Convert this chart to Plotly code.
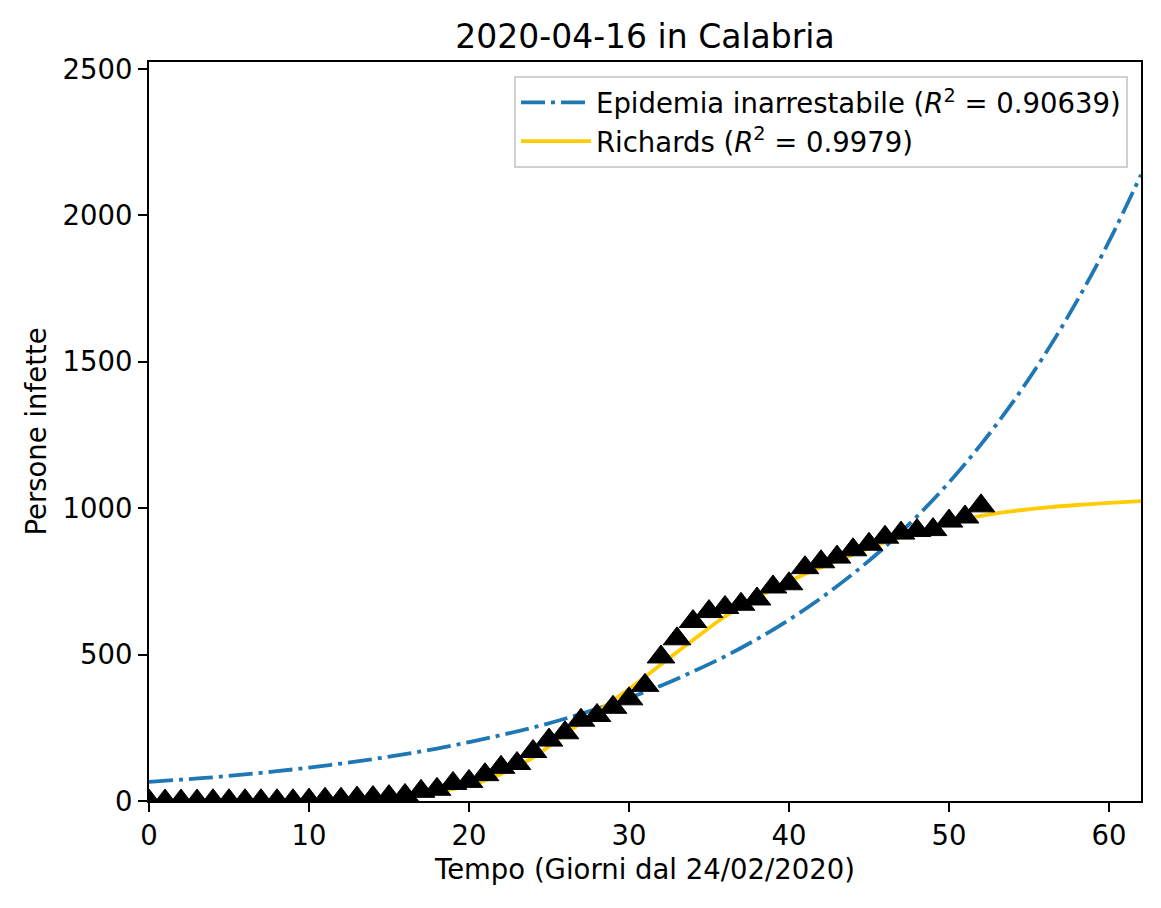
import plotly.graph_objects as go

days = list(range(53))
cases = [0, 0, 0, 0, 1, 1, 1, 1, 1, 1,
         3, 6, 6, 10, 12, 15, 19, 33, 40, 60,
         67, 90, 115, 128, 169, 208, 233, 276, 292, 320,
         349, 395, 492, 554, 613, 647, 661, 672, 690, 731,
         742, 797, 817, 833, 858, 877, 901, 915, 924, 927,
         956, 970, 1008]

# curve dei modelli campionate ogni 2 giorni
fit_days = list(range(0, 63, 2))
exp_fit = [65, 73, 81, 91, 102, 114, 128, 143, 160, 179,
           201, 225, 251, 281, 315, 352, 394, 442, 494, 553,
           619, 693, 776, 868, 972, 1088, 1218, 1363, 1526, 1708,
           1911, 2139]
richards_fit = [0.5, 0.7, 1, 1.5, 2.5, 4, 7, 12, 20, 32,
                52, 92, 148, 228, 305, 382, 466, 550, 630, 695,
                750, 798, 842, 884, 920, 950, 974, 990, 1002, 1011,
                1018, 1024]

title = "2020-04-16 in Calabria"
labels = ["Epidemia inarrestabile (<i>R</i><sup>2</sup> = 0.90639)",
          "Richards (<i>R</i><sup>2</sup> = 0.9979)"]

fig = go.Figure()
fig.add_trace(go.Scatter(x=fit_days, y=exp_fit, mode='lines', name=labels[0],
                         line=dict(color='#1f77b4', width=3.8, shape='spline',
                                   dash='24px,6px,4px,6px')))
fig.add_trace(go.Scatter(x=fit_days, y=richards_fit, mode='lines', name=labels[1],
                         line=dict(color='#ffcc00', width=3.8, shape='spline')))
fig.add_trace(go.Scatter(x=days, y=cases, mode='markers', showlegend=False,
                         marker=dict(symbol='triangle-up', size=24, color='black',
                                     line=dict(width=1, color='black'))))

axis_style = dict(showline=True, mirror=True, linecolor='black', linewidth=2,
                  ticks='outside', ticklen=9, tickwidth=2, tickcolor='black',
                  showgrid=False, zeroline=False,
                  tickfont=dict(size=27.5, color='black'))

# la pagina ha 8px di margine: la figura e' spostata di conseguenza
W, H = 1153, 900
fig.update_layout(
    width=W, height=H,
    margin=dict(l=141, r=20, t=54, b=107),
    paper_bgcolor='white', plot_bgcolor='white',
    font=dict(family='DejaVu Sans', color='black', size=27.5),
    title=dict(text=title, x=(141 + W - 20) / 2 / W, xanchor='center',
               y=1 - 28 / H, yanchor='middle', font=dict(size=33)),
    xaxis=dict(range=[0, 62], tickvals=[0, 10, 20, 30, 40, 50, 60],
               title=dict(text='Tempo (Giorni dal 24/02/2020)', standoff=10,
                          font=dict(size=27.5)),
               **axis_style),
    yaxis=dict(range=[0, 2524], tickvals=[0, 500, 1000, 1500, 2000, 2500],
               title=dict(text='Persone infette', standoff=8, font=dict(size=27.5)),
               **axis_style),
    legend=dict(x=(1128 - 149) / 992, xanchor='right', y=0.981, yanchor='top',
                bordercolor='#d0d0d0', borderwidth=2, bgcolor='rgba(255,255,255,0.8)',
                font=dict(size=27.5), itemwidth=70, tracegroupgap=0),
)

fig.write_html("out.html")
